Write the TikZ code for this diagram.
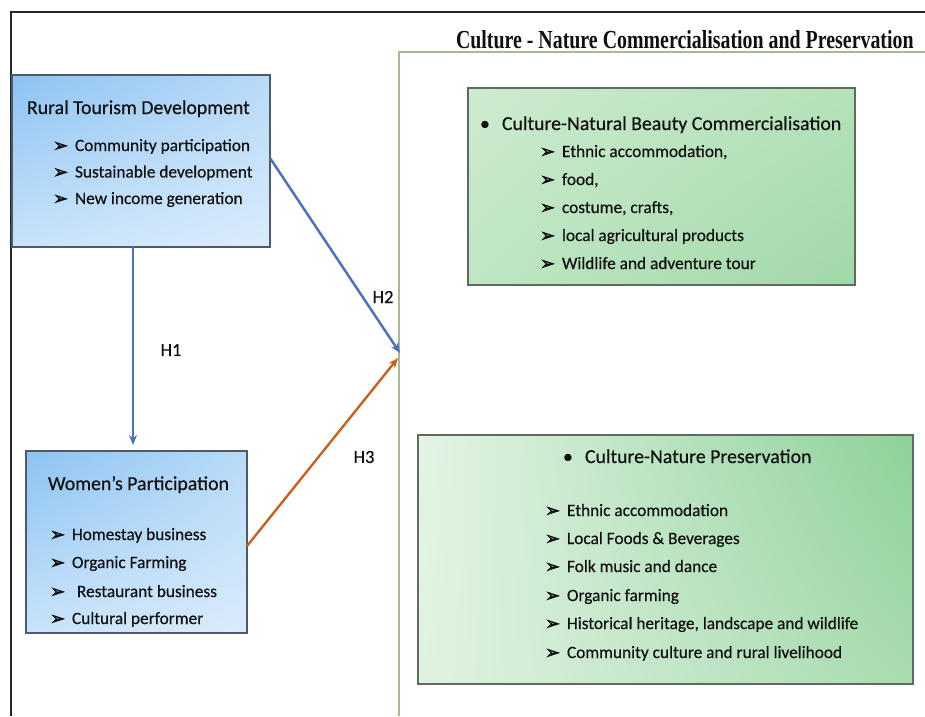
\documentclass[tikz,border=0pt]{standalone}
\usepackage{graphicx}
\usepackage{fontspec}
\setmainfont{Carlito}[FakeBold=0.4]
\newfontfamily\dvfont{DejaVu Sans}[FakeBold=2.5]
\newfontfamily\tmsfont{Liberation Serif}
\usetikzlibrary{arrows.meta,shadings}
\definecolor{txt}{HTML}{101010}
\definecolor{blueln}{HTML}{4A70C2}
\definecolor{orangeln}{HTML}{C8621F}
\definecolor{gframe}{HTML}{A2BB92}
\definecolor{bbord}{HTML}{4E5A68}
\definecolor{gbord}{HTML}{5F6B60}
\definecolor{bUL}{HTML}{8CC3F2}
\definecolor{bUR}{HTML}{B8DAF7}
\definecolor{bLL}{HTML}{C8E3FA}
\definecolor{bLR}{HTML}{DAECFB}
\definecolor{gaUL}{HTML}{CDEBCF}
\definecolor{gaUR}{HTML}{B5E2BA}
\definecolor{gaLL}{HTML}{C0E6C3}
\definecolor{gaLR}{HTML}{A0D8A8}
\definecolor{gbUL}{HTML}{E4F4E5}
\definecolor{gbUR}{HTML}{8DD199}
\definecolor{gbLL}{HTML}{E0F2E1}
\definecolor{gbLR}{HTML}{A8DCB0}
\newcommand\itemarrow{\makebox[22pt][l]{\raisebox{-0.5pt}{\dvfont\fontsize{18}{18}\selectfont ➢}}}
\newcommand\bul{\makebox[22pt][l]{•}}
\tikzset{
  every node/.style={text=txt, inner sep=0pt, outer sep=0pt},
  bluebox/.style={draw=bbord, line width=1.4pt, upper left=bUL, upper right=bUR, lower left=bLL, lower right=bLR},
  greenboxa/.style={draw=gbord, line width=1.4pt, upper left=gaUL, upper right=gaUR, lower left=gaLL, lower right=gaLR},
  greenboxb/.style={draw=gbord, line width=1.4pt, upper left=gbUL, upper right=gbUR, lower left=gbLL, lower right=gbLR},
  head/.style={anchor=base west, font=\fontsize{19.8}{22}\selectfont},
  itm/.style={anchor=base west, font=\fontsize{17.3}{20}\selectfont},
  hlab/.style={font=\fontsize{18.5}{20}\selectfont},
  conn/.style={line width=2.4pt, -{Stealth[length=10pt,width=8pt]}},
}
\begin{document}
\begin{tikzpicture}[x=1pt,y=-1pt]
\useasboundingbox (0,0) rectangle (925,716);
\fill[white] (0,0) rectangle (925,716);
% outer frame
\draw[black!85, line width=1.6pt] (11,716) -- (11,12) -- (925,12);
% green frame
\draw[gframe, line width=2pt] (399,716) -- (399,52) -- (925,52);
% title
\node[anchor=base west, font=\tmsfont\bfseries\fontsize{26}{28}\selectfont] (title) at (456,48)
  {\scalebox{0.765}[1]{Culture - Nature Commercialisation and Preservation}};

% Rural Tourism Development
\node[bluebox, minimum width=258pt, minimum height=172pt] (b1) at (141,161) {};
\node[head] (b1h) at (27,114) {Rural Tourism Development};
\node[itm] (b1a) at (53,151) {\itemarrow Community participation};
\node[itm] (b1b) at (53,177.5) {\itemarrow Sustainable development};
\node[itm] (b1c) at (53,204) {\itemarrow New income generation};

% Women's Participation
\node[bluebox, minimum width=221pt, minimum height=182pt] (b2) at (136.5,542) {};
\node[head] (b2h) at (48,490) {Women’s Participation};
\node[itm] (b2a) at (50,540) {\itemarrow Homestay business};
\node[itm] (b2b) at (50,568) {\itemarrow Organic Farming};
\node[itm] (b2c) at (50,597) {\itemarrow\hspace{5pt}Restaurant business};
\node[itm] (b2d) at (50,624) {\itemarrow Cultural performer};

% Commercialisation
\node[greenboxa, minimum width=387pt, minimum height=197pt] (g1) at (661.5,186.5) {};
\node[head] (g1h) at (480,130) {\bul Culture-Natural Beauty Commercialisation};
\node[itm] (g1a) at (540,157) {\itemarrow Ethnic accommodation,};
\node[itm] (g1b) at (540,185) {\itemarrow food,};
\node[itm] (g1c) at (540,213) {\itemarrow costume, crafts,};
\node[itm] (g1d) at (540,241) {\itemarrow local agricultural products};
\node[itm] (g1e) at (540,269) {\itemarrow Wildlife and adventure tour};

% Preservation
\node[greenboxb, minimum width=495pt, minimum height=249pt] (g2) at (665.5,559.5) {};
\node[head] (g2h) at (563,463) {\bul Culture-Nature Preservation};
\node[itm] (g2a) at (545,516) {\itemarrow Ethnic accommodation};
\node[itm] (g2b) at (545,544) {\itemarrow Local Foods \& Beverages};
\node[itm] (g2c) at (545,572) {\itemarrow Folk music and dance};
\node[itm] (g2d) at (545,601) {\itemarrow Organic farming};
\node[itm] (g2e) at (545,629) {\itemarrow Historical heritage, landscape and wildlife};
\node[itm] (g2f) at (545,658) {\itemarrow Community culture and rural livelihood};

% connectors
\coordinate (hubA) at (400,353);
\coordinate (hubB) at (398,358);
\draw[conn, blueln, shorten >=6pt] ([xshift=-8pt]b1.south) -- ([xshift=-8pt]b1.south |- b2.north);
\draw[conn, blueln] ([yshift=3pt]b1.east) -- (hubA);
\draw[conn, orangeln] ([yshift=-4pt]b2.east) -- (hubB);

\node[hlab] (h1) at (171,350) {H1};
\node[hlab] (h2) at (383,297) {H2};
\node[hlab] (h3) at (364,457) {H3};
\end{tikzpicture}
\end{document}
